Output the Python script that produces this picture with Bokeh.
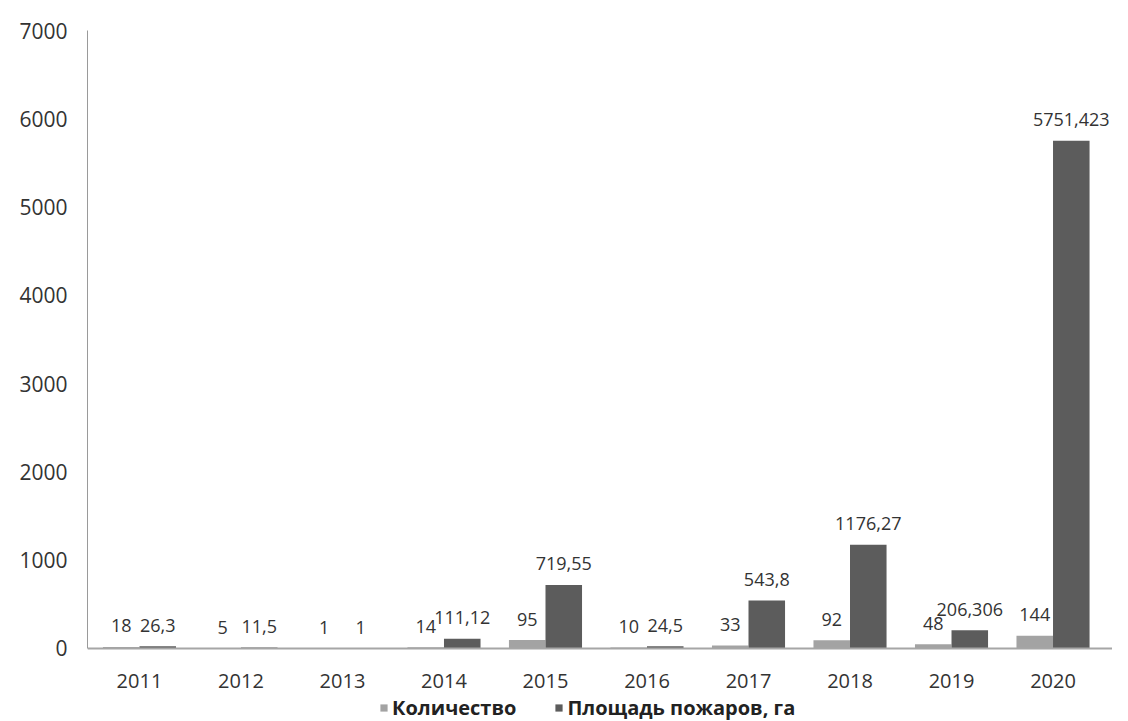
from bokeh.plotting import figure
from bokeh.models import ColumnDataSource, Range1d, FixedTicker, Legend, LegendItem
from bokeh.embed import file_html
from bokeh.resources import INLINE
from bokeh.core.properties import value
import numpy as np

years = ["2011", "2012", "2013", "2014", "2015", "2016", "2017", "2018", "2019", "2020"]
count = [18, 5, 1, 14, 95, 10, 33, 92, 48, 144]
area = [26.3, 11.5, 1, 111.12, 719.55, 24.5, 543.8, 1176.27, 206.306, 5751.423]
count_labels = ["18", "5", "1", "14", "95", "10", "33", "92", "48", "144"]
area_labels = ["26,3", "11,5", "1", "111,12", "719,55", "24,5", "543,8", "1176,27", "206,306", "5751,423"]
y_ticks = [0, 1000, 2000, 3000, 4000, 5000, 6000, 7000]
series_names = ["Количество", "Площадь пожаров, га"]

FONT = "Open Sans"
LIGHT = "#a3a3a3"
DARK = "#5c5c5c"
TXT = "#333333"

idx = np.arange(len(years))
bar_w = 0.36
src_c = ColumnDataSource(dict(x=idx - bar_w / 2, top=count, lab=count_labels))
src_a = ColumnDataSource(dict(x=idx + bar_w / 2, top=area, lab=area_labels))

# frame extends below the zero line so that the legend sits inside it
p = figure(frame_width=1025, frame_height=691, output_backend="svg", toolbar_location=None,
           x_range=Range1d(-0.512, 9.586), y_range=Range1d(-827, 7000),
           min_border_left=87, min_border_right=0, min_border_top=30, min_border_bottom=0)
p.outline_line_color = None
p.xgrid.visible = False
p.ygrid.visible = False
p.background_fill_color = "white"
p.border_fill_color = "white"

r1 = p.vbar(x="x", top="top", width=bar_w, source=src_c, fill_color=LIGHT, line_color=None)
r2 = p.vbar(x="x", top="top", width=bar_w, source=src_a, fill_color=DARK, line_color=None)

for src in (src_c, src_a):
    p.text(x="x", y="top", text="lab", source=src, text_align="center",
           text_baseline="alphabetic", y_offset=-21, text_font=value(FONT),
           text_font_size="18px", text_color=TXT)

# x axis on the zero line
xa = p.xaxis[0]
xa.fixed_location = 0
xa.ticker = FixedTicker(ticks=list(idx))
xa.major_label_overrides = {int(i): y for i, y in zip(idx, years)}
xa.major_tick_line_color = None
xa.minor_tick_line_color = None
xa.major_tick_out = 0
xa.axis_line_color = "#a6a6a6"
xa.axis_line_width = 2
xa.major_label_text_font = FONT
xa.major_label_text_font_size = "20px"
xa.major_label_text_color = TXT
xa.major_label_standoff = 26

# y axis
ya = p.yaxis[0]
ya.ticker = FixedTicker(ticks=y_ticks)
ya.bounds = (0, 7000)
ya.major_tick_line_color = None
ya.minor_tick_line_color = None
ya.major_tick_out = 0
ya.axis_line_color = "#9a9a9a"
ya.axis_line_width = 1
ya.major_label_text_font = FONT
ya.major_label_text_font_size = "21px"
ya.major_label_text_color = TXT
ya.major_label_standoff = 20

legend = Legend(items=[LegendItem(label=series_names[0], renderers=[r1]),
                       LegendItem(label=series_names[1], renderers=[r2])],
                orientation="horizontal", location=(292, 0),
                border_line_color=None, background_fill_alpha=0,
                glyph_width=9, glyph_height=9, label_standoff=4, spacing=38,
                padding=0, margin=0, label_height=20,
                label_text_font=FONT, label_text_font_size="20px",
                label_text_font_style="bold", label_text_color="#222222")
p.add_layout(legend, "center")

open("out.html", "w").write(file_html(p, INLINE))
